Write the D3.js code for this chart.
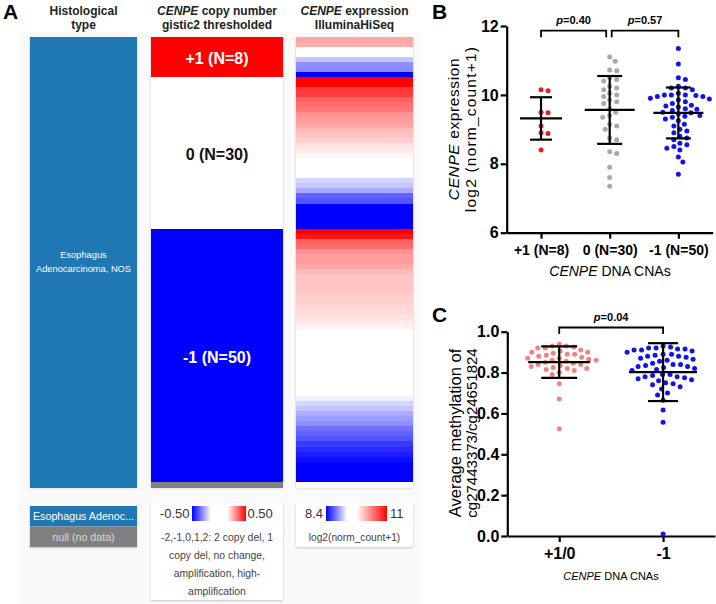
<!DOCTYPE html>
<html><head><meta charset="utf-8">
<script src="https://cdn.jsdelivr.net/npm/d3@7"></script>
<style>body{margin:0;background:#fff}svg{display:block}</style>
</head><body>
<svg id="c" width="716" height="604"></svg>
<script>
// ---------------- DATA ----------------
const cnvGroups = ["+1 (N=8)", "0 (N=30)", "-1 (N=50)"];
const cnvCodes = [1, 0, -1];
const exprPlus1 = [10.15, 10.12, 9.5, 9.48, 9.1, 8.9, 8.88, 8.4];
const exprZero = [11.1, 10.98, 10.72, 10.7, 10.5, 10.45, 10.4, 10.25, 10.2, 10.15, 10.05, 10.0, 9.95, 9.85, 9.8, 9.75, 9.6, 9.5, 9.4, 9.35, 9.15, 9.1, 9.0, 8.75, 8.7, 8.35, 8.3, 7.9, 7.6, 7.35];
const exprMinus1 = [11.35, 10.9, 10.5, 10.45, 10.25, 10.2, 10.2, 10.15, 10.05, 10.0, 10.0, 10.0, 9.98, 9.95, 9.95, 9.9, 9.88, 9.85, 9.8, 9.75, 9.7, 9.68, 9.65, 9.6, 9.58, 9.55, 9.5, 9.48, 9.45, 9.4, 9.38, 9.35, 9.3, 9.25, 9.15, 9.1, 9.0, 8.95, 8.9, 8.8, 8.75, 8.7, 8.6, 8.55, 8.5, 8.45, 8.4, 8.2, 8.05, 7.7];
const nullSamples = 1;
const bTicks = [6, 8, 10, 12];
const bPValues = ["0.40", "0.57"];
const cGroups = ["+1/0", "-1"];
const methylPos = [0.94, 0.93, 0.93, 0.925, 0.92, 0.92, 0.91, 0.905, 0.90, 0.90, 0.895, 0.89, 0.89, 0.885, 0.88, 0.875, 0.87, 0.87, 0.865, 0.86, 0.86, 0.855, 0.85, 0.845, 0.84, 0.84, 0.835, 0.83, 0.825, 0.82, 0.82, 0.815, 0.81, 0.80, 0.79, 0.745, 0.67, 0.525];
const methylNeg = [0.93, 0.925, 0.92, 0.92, 0.915, 0.915, 0.91, 0.91, 0.905, 0.90, 0.89, 0.89, 0.885, 0.88, 0.88, 0.875, 0.87, 0.865, 0.86, 0.855, 0.845, 0.84, 0.84, 0.835, 0.83, 0.83, 0.825, 0.82, 0.815, 0.81, 0.79, 0.79, 0.785, 0.78, 0.78, 0.775, 0.77, 0.765, 0.76, 0.75, 0.745, 0.74, 0.73, 0.72, 0.70, 0.69, 0.665, 0.617, 0.557, 0.01];
const cTicks = [0, 0.2, 0.4, 0.6, 0.8, 1.0];
const cPValue = "0.04";
const histLabel = ["Esophagus", "Adenocarcinoma, NOS"];
const headers = [
  [[["Histological", false]], [["type", false]]],
  [[["CENPE", true], [" copy number", false]], [["gistic2 thresholded", false]]],
  [[["CENPE", true], [" expression", false]], [["IlluminaHiSeq", false]]]
];
const cnvLegendLabels = ["-0.50", "0.50"];
const cnvLegendText = ["-2,-1,0,1,2: 2 copy del, 1", "copy del, no change,", "amplification, high-", "amplification"];
const exprLegendLabels = ["8.4", "11"];
const exprLegendText = ["log2(norm_count+1)"];
const histLegend = ["Esophagus Adenoc...", "null (no data)"];

// ---------------- SETUP ----------------
const svg = d3.select("#c");
const F = "'Liberation Sans', Arial, Helvetica, sans-serif";
const defs = svg.append("defs");
defs.append("filter").attr("id", "sh").attr("x", "-10%").attr("y", "-10%").attr("width", "120%").attr("height", "120%")
  .append("feDropShadow").attr("dx", 0).attr("dy", 1).attr("stdDeviation", 1).attr("flood-color", "#000").attr("flood-opacity", 0.22);

function rich(sel, parts) {
  parts.forEach(([t, it]) => sel.append("tspan").attr("font-style", it ? "italic" : "normal").text(t));
  return sel;
}

// ---------------- PANEL A ----------------
const groupsExpr = [exprPlus1, exprZero, exprMinus1];
const samples = [];
groupsExpr.forEach((arr, gi) => {
  arr.slice().sort((a, b) => b - a).forEach(v => samples.push({ cnv: cnvCodes[gi], expr: v, g: gi, hist: "EAC" }));
});
for (let i = 0; i < nullSamples; i++) samples.push({ cnv: null, expr: null, g: -1, hist: "EAC" });

svg.append("rect").attr("x", 20).attr("y", 32).attr("width", 400).attr("height", 572).attr("fill", "#fafafa");

const yA = d3.scaleBand().domain(d3.range(samples.length)).range([36.5, 487]);
const colX = d3.scaleOrdinal().domain([0, 1, 2]).range([30, 151, 296]);
const colW = [107, 132, 117];
const bw = yA.bandwidth();

// consecutive runs of equal value -> one rect each
function runs(acc) {
  const out = [];
  samples.forEach((s, i) => {
    const v = acc(s);
    const last = out[out.length - 1];
    if (last && last.v === v) last.end = i; else out.push({ v, start: i, end: i });
  });
  return out;
}

svg.append("text").attr("x", 3).attr("y", 19).attr("font-family", F).attr("font-weight", "bold").attr("font-size", 21).text("A");

headers.forEach((lines, ci) => {
  lines.forEach((parts, li) => {
    const t = svg.append("text").attr("x", colX(ci) + colW[ci] / 2).attr("y", 15 + li * 14)
      .attr("text-anchor", "middle").attr("font-family", F).attr("font-weight", "bold").attr("font-size", 12).attr("fill", "#222");
    rich(t, parts);
  });
});

[0, 1, 2].forEach(ci => {
  svg.append("rect").attr("x", colX(ci)).attr("y", yA(0)).attr("width", colW[ci]).attr("height", yA.range()[1] - yA(0))
    .attr("fill", "#fff").attr("filter", "url(#sh)");
});

function drawRuns(ci, acc, color) {
  svg.append("g").attr("shape-rendering", "crispEdges").selectAll("rect").data(runs(acc)).join("rect")
    .attr("x", colX(ci)).attr("y", d => yA(d.start)).attr("width", colW[ci])
    .attr("height", d => yA(d.end) + bw - yA(d.start) + 0.5)
    .attr("fill", d => color(d.v));
}

// column 1: histological type
drawRuns(0, s => s.hist, () => "#1f77b4");
const c1mid = (yA(0) + yA.range()[1]) / 2;
histLabel.forEach((t, i) => {
  svg.append("text").attr("x", colX(0) + colW[0] / 2).attr("y", c1mid - 4 + i * 14).attr("text-anchor", "middle")
    .attr("font-family", F).attr("font-size", 9.3).attr("fill", "#fff").text(t);
});

// column 2: CNV
const cnvColor = d3.scaleLinear().domain([-0.5, -0.15, 0.15, 0.5]).range(["#0000ff", "#ffffff", "#ffffff", "#ff0000"]).clamp(true);
drawRuns(1, s => s.cnv, v => v === null ? "#808080" : cnvColor(v));
cnvGroups.forEach((label, gi) => {
  const idx = samples.map((s, i) => s.g === gi ? i : -1).filter(i => i >= 0);
  const top = yA(idx[0]), bot = yA(idx[idx.length - 1]) + bw;
  svg.append("text").attr("x", colX(1) + colW[1] / 2).attr("y", (top + bot) / 2 + 2)
    .attr("dominant-baseline", "central").attr("text-anchor", "middle")
    .attr("font-family", F).attr("font-weight", "bold").attr("font-size", 16)
    .attr("fill", cnvCodes[gi] === 0 ? "#111" : "#fff").text(label);
});

// column 3: expression heatmap
const exprStops = [8.4, 9.3, 9.7, 11];
const exprColor = d3.scaleLinear().domain(exprStops).range(["#0000ff", "#ffffff", "#ffffff", "#ff0000"]).clamp(true);
drawRuns(2, s => s.expr === null ? "null" : exprColor(s.expr), v => v === "null" ? "#fcfcfc" : v);

// legends
const lgY = 506;
svg.append("rect").attr("x", colX(0)).attr("y", lgY).attr("width", colW[0]).attr("height", 41).attr("fill", "#fff").attr("filter", "url(#sh)");
["#1f77b4", "#808080"].forEach((c, i) => {
  svg.append("rect").attr("x", colX(0)).attr("y", lgY + i * 20.5).attr("width", colW[0]).attr("height", 20.5).attr("fill", c);
  svg.append("text").attr("x", colX(0) + colW[0] / 2).attr("y", lgY + i * 20.5 + 14).attr("text-anchor", "middle")
    .attr("font-family", F).attr("font-size", 10.7).attr("fill", i === 0 ? "#fff" : "#d8d8d8").text(histLegend[i]);
});
function gradient(id, stops) {
  const g = defs.append("linearGradient").attr("id", id);
  stops.forEach(([o, c]) => g.append("stop").attr("offset", o).attr("stop-color", c));
}
gradient("gcnv", cnvColor.domain().map((d, i) => [(d + 0.5) / 1.0, cnvColor.range()[i]]));
gradient("gexp", exprStops.map((d, i) => [(d - 8.4) / (11 - 8.4), exprColor.range()[i]]));

svg.append("rect").attr("x", colX(1)).attr("y", lgY - 3).attr("width", colW[1]).attr("height", 97).attr("fill", "#fff").attr("filter", "url(#sh)");
svg.append("rect").attr("x", 192).attr("y", lgY).attr("width", 54).attr("height", 15).attr("fill", "url(#gcnv)");
svg.append("text").attr("x", 189.5).attr("y", lgY + 12).attr("text-anchor", "end").attr("font-family", F).attr("font-size", 13).attr("fill", "#333").text(cnvLegendLabels[0]);
svg.append("text").attr("x", 247.5).attr("y", lgY + 12).attr("font-family", F).attr("font-size", 13).attr("fill", "#333").text(cnvLegendLabels[1]);
cnvLegendText.forEach((t, i) => {
  svg.append("text").attr("x", colX(1) + colW[1] / 2).attr("y", 540.5 + i * 18).attr("text-anchor", "middle")
    .attr("font-family", F).attr("font-size", 10.4).attr("fill", "#444").text(t);
});
svg.append("rect").attr("x", colX(2)).attr("y", lgY - 3).attr("width", colW[2]).attr("height", 44).attr("fill", "#fff").attr("filter", "url(#sh)");
svg.append("rect").attr("x", 326).attr("y", lgY).attr("width", 61).attr("height", 15).attr("fill", "url(#gexp)");
svg.append("text").attr("x", 323).attr("y", lgY + 12).attr("text-anchor", "end").attr("font-family", F).attr("font-size", 13).attr("fill", "#333").text(exprLegendLabels[0]);
svg.append("text").attr("x", 390).attr("y", lgY + 12).attr("font-family", F).attr("font-size", 13).attr("fill", "#333").text(exprLegendLabels[1]);
svg.append("text").attr("x", colX(2) + colW[2] / 2).attr("y", 540.5).attr("text-anchor", "middle")
  .attr("font-family", F).attr("font-size", 10.2).attr("fill", "#444").text(exprLegendText[0]);

// ---------------- SCATTER HELPERS ----------------
function swarm(values, yScale, D) {
  const pts = values.map(v => ({ v, y: yScale(v), x: 0 }));
  const order = pts.slice().sort((a, b) => b.v - a.v);
  const placed = [];
  for (const p of order) {
    let off = 0;
    for (let k = 0; k < 600; k++) {
      const o = (k % 2 ? 1 : -1) * Math.ceil(k / 2) * 0.5;
      if (placed.every(q => (q.x - o) ** 2 + (q.y - p.y) ** 2 >= D * D)) { off = o; break; }
    }
    p.x = off; placed.push(p);
  }
  return pts;
}
function styleAxis(g) {
  g.selectAll("path.domain").attr("stroke", "#000").attr("stroke-width", 2.2);
  g.selectAll(".tick line").attr("stroke", "#000").attr("stroke-width", 2.2);
  g.selectAll(".tick text").attr("font-family", F).attr("font-weight", "bold").attr("fill", "#000");
}
function errBar(g, cx, vals, y, meanHalf, capHalf) {
  const m = d3.mean(vals), s = d3.deviation(vals);
  const add = (x1, y1, x2, y2) => g.append("line").attr("x1", x1).attr("y1", y1).attr("x2", x2).attr("y2", y2)
    .attr("stroke", "#000").attr("stroke-width", 2.2);
  add(cx, y(m + s), cx, y(m - s));
  add(cx - meanHalf, y(m), cx + meanHalf, y(m));
  add(cx - capHalf, y(m + s), cx + capHalf, y(m + s));
  add(cx - capHalf, y(m - s), cx + capHalf, y(m - s));
}
function bracket(g, x1, x2, yb, label) {
  g.append("path").attr("d", `M${x1},${yb + 6.5}V${yb}H${x2}V${yb + 6.5}`).attr("fill", "none").attr("stroke", "#000").attr("stroke-width", 1.8);
  const t = g.append("text").attr("x", (x1 + x2) / 2).attr("y", yb - 6.5).attr("text-anchor", "middle")
    .attr("font-family", F).attr("font-weight", "bold").attr("font-size", 11);
  rich(t, [["p", true], ["=" + label, false]]);
}

// ---------------- PANEL B ----------------
const gB = svg.append("g");
const xB = d3.scalePoint().domain(cnvGroups).range([506.7, 712.7]).padding(0.5);
const yB = d3.scaleLinear().domain([6, 12]).range([232.7, 26]);
gB.append("text").attr("x", 432).attr("y", 19).attr("font-family", F).attr("font-weight", "bold").attr("font-size", 21).text("B");
const axBy = gB.append("g").attr("transform", "translate(506.7,0)")
  .call(d3.axisLeft(yB).tickValues(bTicks).tickSize(6).tickSizeOuter(0).tickPadding(2).tickFormat(d3.format("d")));
axBy.selectAll(".tick text").attr("font-size", 16);
styleAxis(axBy);
const axBx = gB.append("g").attr("transform", "translate(0,232.7)")
  .call(d3.axisBottom(xB).tickSize(6).tickSizeOuter(0).tickPadding(6));
axBx.selectAll(".tick text").attr("font-size", 14);
styleAxis(axBx);
const bColors = ["#ec1c24", "#a8a8a8", "#1414e6"];
groupsExpr.forEach((vals, gi) => {
  const cx = xB(cnvGroups[gi]);
  gB.append("g").selectAll("circle").data(swarm(vals, yB, 6.8)).join("circle")
    .attr("cx", d => cx + d.x).attr("cy", d => d.y).attr("r", 2.5).attr("fill", bColors[gi]);
});
groupsExpr.forEach((vals, gi) => {
  errBar(gB, xB(cnvGroups[gi]), vals, yB, gi === 0 ? 21 : 25, gi === 0 ? 11 : 12.5);
});
bracket(gB, xB(cnvGroups[0]), xB(cnvGroups[1]) - 3.5, 30.7, bPValues[0]);
bracket(gB, xB(cnvGroups[1]) + 2, xB(cnvGroups[2]), 30.7, bPValues[1]);
const bYT = gB.append("g").attr("transform", "translate(459,129) rotate(-90)");
rich(bYT.append("text").attr("text-anchor", "middle").attr("font-family", F).attr("font-size", 15.5).attr("letter-spacing", 0.6),
  [["CENPE", true], [" expression", false]]);
bYT.append("text").attr("y", 17).attr("text-anchor", "middle").attr("font-family", F).attr("font-size", 15.5).attr("letter-spacing", 1.2).text("log2 (norm_count+1)");
rich(gB.append("text").attr("x", 610).attr("y", 276).attr("text-anchor", "middle").attr("font-family", F).attr("font-size", 14),
  [["CENPE", true], [" DNA CNAs", false]]);

// ---------------- PANEL C ----------------
const gC = svg.append("g");
const xC = d3.scalePoint().domain(cGroups).range([507.3, 715]).padding(0.5);
const yC = d3.scaleLinear().domain([0, 1]).range([536, 331.7]);
gC.append("text").attr("x", 432).attr("y", 322).attr("font-family", F).attr("font-weight", "bold").attr("font-size", 21).text("C");
const axCy = gC.append("g").attr("transform", "translate(507.3,0)")
  .call(d3.axisLeft(yC).tickValues(cTicks).tickSize(6).tickSizeOuter(0).tickPadding(2).tickFormat(d3.format(".1f")));
axCy.selectAll(".tick text").attr("font-size", 16);
styleAxis(axCy);
const axCx = gC.append("g").attr("transform", "translate(0,536)")
  .call(d3.axisBottom(xC).tickSize(6).tickSizeOuter(0).tickPadding(6));
axCx.selectAll(".tick text").attr("font-size", 16);
styleAxis(axCx);
const cVals = [methylPos, methylNeg];
const cColors = ["#f08484", "#1414e6"];
cVals.forEach((vals, gi) => {
  const cx = xC(cGroups[gi]);
  gC.append("g").selectAll("circle").data(swarm(vals, yC, 7.2)).join("circle")
    .attr("cx", d => cx + d.x).attr("cy", d => d.y).attr("r", 2.5).attr("fill", cColors[gi]);
});
cVals.forEach((vals, gi) => errBar(gC, xC(cGroups[gi]), vals, yC, gi === 0 ? 31 : 34, gi === 0 ? 18 : 15));
bracket(gC, xC(cGroups[0]), xC(cGroups[1]), 327.5, cPValue);
const cYT = gC.append("g").attr("transform", "translate(461,433) rotate(-90)");
cYT.append("text").attr("text-anchor", "middle").attr("font-family", F).attr("font-size", 16.5).text("Average methylation of");
cYT.append("text").attr("y", 16).attr("text-anchor", "middle").attr("font-family", F).attr("font-size", 15).text("cg27443373/cg24651824");
rich(gC.append("text").attr("x", 611).attr("y", 580).attr("text-anchor", "middle").attr("font-family", F).attr("font-size", 11),
  [["CENPE", true], [" DNA CNAs", false]]);
</script>
</body></html>
